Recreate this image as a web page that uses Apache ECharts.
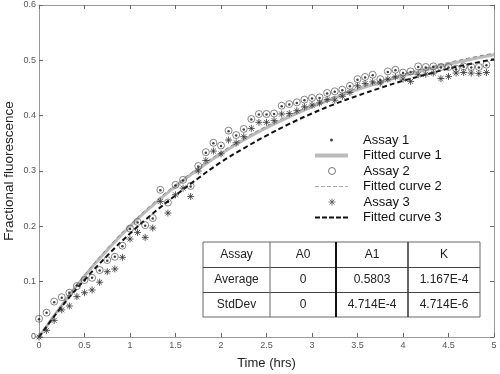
<!DOCTYPE html>
<html><head><meta charset="utf-8">
<script src="https://cdn.jsdelivr.net/npm/echarts@6/dist/echarts.min.js"></script>
<style>html,body{margin:0;padding:0;background:#fff}#c{width:500px;height:374px}</style>
</head><body><div id="c"></div>
<script>
// sample times (minutes)
const minutes = [0,5,10,15,20,25,30,35,40,45,50,55,60,65,70,75,80,85,90,95,100,105,110,115,120,125,130,135,140,145,150,155,160,165,170,175,180,185,190,195,200,205,210,215,220,225,230,235,240,245,250,255,260,265,270,275,280,285,290,295];
const assay1 = [0.032,0.044,0.063,0.071,0.080,0.093,0.102,0.107,0.120,0.138,0.145,0.164,0.195,0.207,0.201,0.214,0.265,0.244,0.274,0.283,0.272,0.308,0.333,0.350,0.345,0.372,0.364,0.375,0.393,0.402,0.402,0.403,0.417,0.420,0.423,0.428,0.431,0.432,0.440,0.443,0.446,0.453,0.465,0.469,0.473,0.465,0.479,0.482,0.477,0.479,0.488,0.487,0.488,0.487,0.487,0.484,0.488,0.487,0.487,0.491];
const assay2 = [0.033,0.044,0.064,0.072,0.080,0.092,0.103,0.107,0.121,0.139,0.145,0.165,0.196,0.208,0.202,0.215,0.266,0.243,0.275,0.284,0.273,0.309,0.334,0.351,0.346,0.373,0.365,0.376,0.394,0.403,0.403,0.404,0.418,0.421,0.424,0.429,0.432,0.433,0.441,0.444,0.447,0.454,0.466,0.470,0.474,0.466,0.480,0.483,0.478,0.480,0.489,0.488,0.489,0.488,0.488,0.485,0.489,0.488,0.488,0.492];
const assay3 = [0.000,0.012,0.030,0.049,0.056,0.073,0.080,0.085,0.099,0.118,0.123,0.144,0.177,0.189,0.180,0.197,0.245,0.224,0.257,0.269,0.254,0.300,0.319,0.336,0.331,0.356,0.351,0.362,0.377,0.388,0.388,0.391,0.403,0.404,0.409,0.416,0.419,0.423,0.429,0.428,0.435,0.442,0.454,0.458,0.461,0.459,0.466,0.470,0.466,0.462,0.474,0.475,0.477,0.467,0.471,0.477,0.478,0.477,0.476,0.478];
// fitted curves read at these times (hours)
const fitT = [0,0.25,0.5,0.75,1,1.25,1.5,1.75,2,2.25,2.5,2.75,3,3.25,3.5,3.75,4,4.25,4.5,4.75,5];
const fit1 = [0,0.057,0.110,0.157,0.200,0.238,0.272,0.303,0.331,0.356,0.378,0.398,0.416,0.432,0.447,0.460,0.472,0.483,0.493,0.502,0.510];
const fit2 = [0,0.058,0.112,0.160,0.203,0.241,0.275,0.306,0.334,0.359,0.381,0.401,0.419,0.435,0.450,0.463,0.475,0.486,0.496,0.505,0.513];
const fit3 = [0,0.055,0.103,0.147,0.187,0.223,0.256,0.287,0.316,0.341,0.364,0.385,0.404,0.421,0.436,0.450,0.463,0.474,0.485,0.494,0.502];
// table
const tableHeader = ['Assay','A0','A1','K'];
const tableRows = [['Average','0','0.5803','1.167E-4'],['StdDev','0','4.714E-4','4.714E-6']];

const hrs = minutes.map(m => m / 60);
const pairs = (xs, ys) => xs.map((x, i) => [x, ys[i]]);
const STAR = 'path://M5 0L5 10M0 5L10 5M1.5 1.5L8.5 8.5M8.5 1.5L1.5 8.5';
const FONT = 'Liberation Sans, Arial, sans-serif';

const chart = echarts.init(document.getElementById('c'), null, {renderer: 'canvas'});

const axisCommon = (pos, isX) => ({
  type: 'value', position: pos, min: 0, max: isX ? 5 : 0.6, interval: isX ? 0.5 : 0.1,
  axisLine: {show: true, onZero: false, lineStyle: {color: '#999', width: 1}},
  axisTick: {show: true, inside: true, length: 4, lineStyle: {color: '#666'}},
  splitLine: {show: false}
});

// table graphics
const colX = [203, 270, 336, 408, 480];
const rowY = [242, 267, 292, 317];
const graphic = [];
graphic.push({type: 'rect', shape: {x: colX[0], y: rowY[0], width: colX[4] - colX[0], height: rowY[3] - rowY[0]}, style: {fill: '#fff', stroke: '#666', lineWidth: 1}, z: 50});
[1, 2].forEach(r => graphic.push({type: 'line', shape: {x1: colX[0], y1: rowY[r] + 0.5, x2: colX[4], y2: rowY[r] + 0.5}, style: {stroke: '#444', lineWidth: 1}, z: 51}));
[[1, 1, '#666'], [2, 2, '#111'], [3, 1.5, '#333']].forEach(([c, w, col]) => graphic.push({type: 'line', shape: {x1: colX[c], y1: rowY[0], x2: colX[c], y2: rowY[3]}, style: {stroke: col, lineWidth: w}, z: 51}));
[tableHeader].concat(tableRows).forEach((row, r) => row.forEach((txt, c) => {
  graphic.push({type: 'text', x: (colX[c] + colX[c + 1]) / 2, y: (rowY[r] + rowY[r + 1]) / 2,
    style: {text: txt, fill: '#222', font: '12px ' + FONT, align: 'center', verticalAlign: 'middle'}, z: 52});
}));

// legends, one per row
const legendRows = [
  {name: 'Assay 1', icon: 'circle', h: 3, sym: true, itemStyle: {color: '#111'}},
  {name: 'Fitted curve 1', icon: 'rect', h: 4, sym: false, itemStyle: {color: '#bbb'}},
  {name: 'Assay 2', icon: 'circle', h: 7, sym: true, itemStyle: {color: 'transparent', borderColor: '#555', borderWidth: 1}},
  {name: 'Fitted curve 2', icon: 'path://M0 0h4v1h-4zM6 0h4v1h-4zM12 0h4v1h-4zM18 0h4v1h-4zM24 0h4v1h-4zM30 0h3v1h-3z', h: 1, sym: false, itemStyle: {color: '#aaa'}},
  {name: 'Assay 3', icon: STAR, h: 7, sym: true, itemStyle: {color: 'transparent', borderColor: '#555', borderWidth: 1}},
  {name: 'Fitted curve 3', icon: 'path://M0 0h5v2h-5zM7 0h5v2h-5zM14 0h5v2h-5zM21 0h5v2h-5zM28 0h5v2h-5z', h: 2, sym: false, itemStyle: {color: '#111'}}
];
const legendCenters = [140, 155.5, 171, 186.5, 202, 217.5];
const legend = legendRows.map((d, i) => ({
  data: [{name: d.name, icon: d.icon, itemStyle: d.itemStyle}],
  left: d.sym ? 315 + (33 - d.h) / 2 : 315, top: legendCenters[i] - 7, padding: 0, itemWidth: 33, itemHeight: d.h,
  selectedMode: false,
  textStyle: {fontSize: 13, fontFamily: FONT, color: '#111', padding: [0, 0, 0, 10], lineHeight: 14}
}));

chart.setOption({
  animation: false,
  backgroundColor: '#fff',
  grid: {left: 39, right: 6, top: 5, bottom: 37, show: false, containLabel: false, outerBoundsMode: 'none'},
  legend: legend,
  xAxis: [
    Object.assign(axisCommon('bottom', true), {
      name: 'Time (hrs)', nameLocation: 'middle', nameGap: 20, nameMoveOverlap: false,
      nameTextStyle: {fontSize: 13, fontFamily: FONT, color: '#222'},
      axisLabel: {fontSize: 9, fontFamily: FONT, color: '#555', margin: 4}
    }),
    Object.assign(axisCommon('top', true), {axisLabel: {show: false}})
  ],
  yAxis: [
    Object.assign(axisCommon('left', false), {
      name: 'Fractional fluorescence', nameLocation: 'middle', nameGap: 23, nameMoveOverlap: false,
      nameTextStyle: {fontSize: 13.5, fontFamily: FONT, color: '#222'},
      axisLabel: {fontSize: 9, fontFamily: FONT, color: '#555', margin: 3}
    }),
    Object.assign(axisCommon('right', false), {axisLabel: {show: false}})
  ],
  graphic: graphic,
  series: [
    {name: 'Fitted curve 1', type: 'line', data: pairs(fitT, fit1), symbol: 'none', smooth: true,
      lineStyle: {color: '#bbb', width: 3}, itemStyle: {color: '#bbb'}, z: 2},
    {name: 'Fitted curve 2', type: 'line', data: pairs(fitT, fit2), symbol: 'none', smooth: true,
      lineStyle: {color: '#888', width: 1, type: [4, 3]}, itemStyle: {color: '#aaa'}, z: 3},
    {name: 'Fitted curve 3', type: 'line', data: pairs(fitT, fit3), symbol: 'none', smooth: true,
      lineStyle: {color: '#111', width: 2, type: [5, 3]}, itemStyle: {color: '#111'}, z: 4},
    {name: 'Assay 1', type: 'scatter', data: pairs(hrs, assay1), symbol: 'circle', symbolSize: 2.5,
      itemStyle: {color: '#111'}, z: 7},
    {name: 'Assay 2', type: 'scatter', data: pairs(hrs, assay2), symbol: 'circle', symbolSize: 7,
      itemStyle: {color: 'transparent', borderColor: '#444', borderWidth: 0.8}, z: 6},
    {name: 'Assay 3', type: 'scatter', data: pairs(hrs, assay3), symbol: STAR, symbolSize: 7,
      itemStyle: {color: 'transparent', borderColor: '#333', borderWidth: 1}, z: 5}
  ]
});
</script></body></html>
